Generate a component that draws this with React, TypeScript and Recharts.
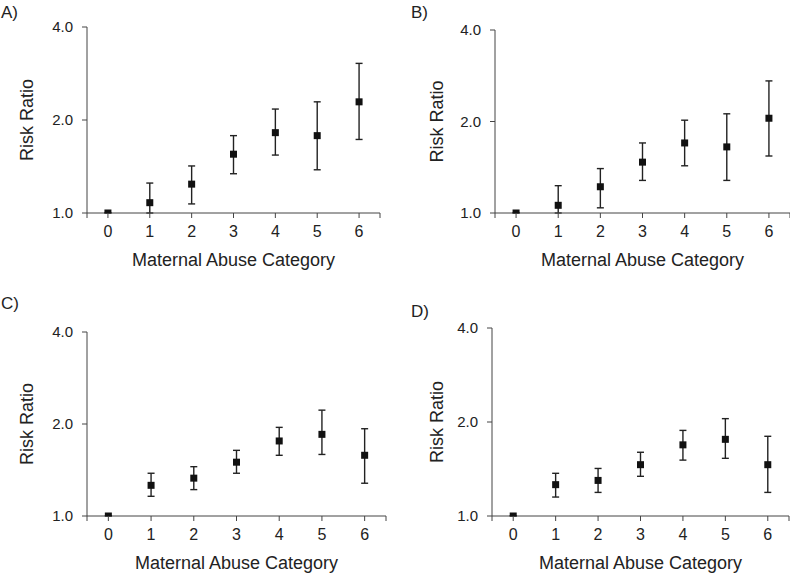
import React from "react";
import {
  ScatterChart,
  Scatter,
  XAxis,
  YAxis,
  ErrorBar,
  Label,
} from "recharts";

// abuse categories on the x axis
const categories = [0, 1, 2, 3, 4, 5, 6];
const yTicks = [1, 2, 4];
const xTicks = [-0.5, 0, 1, 2, 3, 4, 5, 6, 6.5];

// risk ratios with lower / upper confidence limits
const rrA = [1.0, 1.08, 1.24, 1.55, 1.82, 1.78, 2.29];
const loA = [1.0, 1.0, 1.07, 1.34, 1.54, 1.38, 1.73];
const hiA = [1.0, 1.25, 1.42, 1.78, 2.17, 2.29, 3.05];

const rrB = [1.0, 1.06, 1.22, 1.47, 1.7, 1.65, 2.05];
const loB = [1.0, 1.0, 1.04, 1.28, 1.43, 1.28, 1.54];
const hiB = [1.0, 1.23, 1.4, 1.7, 2.02, 2.12, 2.72];

const rrC = [1.0, 1.26, 1.33, 1.5, 1.76, 1.85, 1.58];
const loC = [1.0, 1.16, 1.22, 1.38, 1.58, 1.59, 1.28];
const hiC = [1.0, 1.38, 1.45, 1.64, 1.95, 2.22, 1.93];

const rrD = [1.0, 1.26, 1.3, 1.46, 1.69, 1.76, 1.46];
const loD = [1.0, 1.15, 1.19, 1.34, 1.51, 1.53, 1.19];
const hiD = [1.0, 1.37, 1.42, 1.6, 1.88, 2.05, 1.8];

const FONT = "'Liberation Sans', Arial, sans-serif";
const INK = "#222";
const AXIS = "#444";

// ErrorBar wants [below, above] deltas
const buildRows = (rr: number[], lo: number[], hi: number[]) =>
  categories.map((cat, i) => ({
    cat,
    rr: rr[i],
    err: [rr[i] - lo[i], hi[i] - rr[i]],
  }));

const Square = (p: any) => (
  <rect x={p.cx - 3.5} y={p.cy - 3.5} width={7} height={7} fill="#111" />
);

type PanelProps = {
  tag: string;
  rows: ReturnType<typeof buildRows>;
  left: number;
  top: number;
  width: number;
  height: number;
  margin: { top: number; right: number; bottom: number; left: number };
  labelOffset: number;
  tagTop: number;
  tagLeft: number;
};

const Panel: React.FC<PanelProps> = ({
  tag,
  rows,
  left,
  top,
  width,
  height,
  margin,
  labelOffset,
  tagTop,
  tagLeft,
}) => (
  <div style={{ position: "absolute", left, top, width, height }}>
    <div
      style={{
        position: "absolute",
        left: tagLeft,
        top: tagTop,
        fontSize: 17,
        fontFamily: FONT,
        color: INK,
      }}
    >
      {tag}
    </div>
    <ScatterChart width={width} height={height} margin={margin}>
      <XAxis
        type="number"
        dataKey="cat"
        domain={[-0.5, 6.5]}
        ticks={xTicks}
        interval={0}
        tickFormatter={(v: number) => (Number.isInteger(v) ? String(v) : "")}
        height={53}
        tickSize={5}
        tickMargin={8}
        stroke={AXIS}
        tick={{ fill: INK, fontSize: 16, fontFamily: FONT }}
        allowDataOverflow
      >
        <Label
          value="Maternal Abuse Category"
          position="insideBottom"
          offset={0}
          style={{ fill: INK, fontSize: 18, fontFamily: FONT }}
        />
      </XAxis>
      <YAxis
        type="number"
        dataKey="rr"
        scale="log"
        domain={[1, 4]}
        ticks={yTicks}
        interval={0}
        tickFormatter={(v: number) => v.toFixed(1)}
        width={60}
        tickSize={5}
        tickMargin={9}
        stroke={AXIS}
        tick={{ fill: INK, fontSize: 15, fontFamily: FONT }}
        allowDataOverflow
      >
        <Label
          value="Risk Ratio"
          angle={-90}
          position="insideLeft"
          offset={labelOffset}
          style={{ fill: INK, fontSize: 18, fontFamily: FONT, textAnchor: "middle" }}
        />
      </YAxis>
      <Scatter data={rows} shape={Square} isAnimationActive={false}>
        <ErrorBar
          dataKey="err"
          direction="y"
          width={3.5}
          stroke={INK}
          strokeWidth={1.4}
          isAnimationActive={false}
        />
      </Scatter>
    </ScatterChart>
  </div>
);

export default function App() {
  return (
    <div
      style={{
        position: "absolute",
        left: 0,
        top: 0,
        width: 790,
        height: 573,
        background: "#fff",
      }}
    >
      <Panel
        tag="A)"
        rows={buildRows(rrA, loA, hiA)}
        left={0}
        top={0}
        width={395}
        height={290}
        margin={{ top: 27, right: 15, bottom: 24, left: 27 }}
        labelOffset={0}
        tagLeft={1}
        tagTop={3}
      />
      <Panel
        tag="B)"
        rows={buildRows(rrB, loB, hiB)}
        left={395}
        top={0}
        width={395}
        height={290}
        margin={{ top: 30, right: 0, bottom: 24, left: 40 }}
        labelOffset={2}
        tagLeft={16}
        tagTop={3}
      />
      <Panel
        tag="C)"
        rows={buildRows(rrC, loC, hiC)}
        left={0}
        top={290}
        width={395}
        height={283}
        margin={{ top: 42, right: 9, bottom: 4, left: 27 }}
        labelOffset={0}
        tagLeft={1}
        tagTop={4}
      />
      <Panel
        tag="D)"
        rows={buildRows(rrD, loD, hiD)}
        left={395}
        top={290}
        width={395}
        height={283}
        margin={{ top: 38, right: 1, bottom: 4, left: 37 }}
        labelOffset={5}
        tagLeft={16}
        tagTop={12}
      />
    </div>
  );
}
